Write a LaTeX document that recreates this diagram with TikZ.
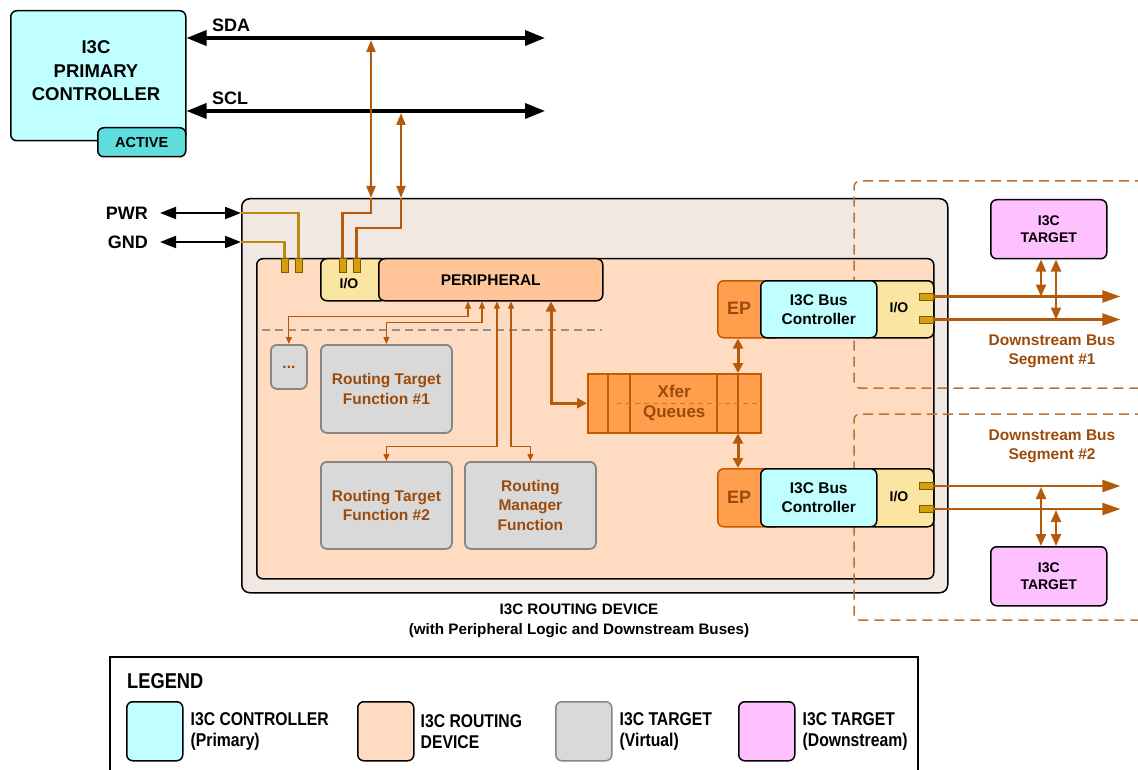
\documentclass[tikz,border=0pt]{standalone}
\usepackage{fontspec}
\setmainfont{Liberation Sans}
\newfontfamily\legendfont[FakeStretch=0.85]{Liberation Sans}
\usetikzlibrary{arrows.meta}

\definecolor{ctrlcyan}{HTML}{C0FFFF}
\definecolor{activeteal}{HTML}{5FDCDC}
\definecolor{devbg}{HTML}{F2E8E2}
\definecolor{peach}{HTML}{FFDCC1}
\definecolor{ioyellow}{HTML}{FAE5A2}
\definecolor{periph}{HTML}{FFC599}
\definecolor{qorange}{HTML}{FF9F4D}
\definecolor{qedge}{HTML}{C25A00}
\definecolor{wire}{HTML}{B55A0A}
\definecolor{brtext}{HTML}{9C4A0A}
\definecolor{vgray}{HTML}{D9D9D9}
\definecolor{vedge}{HTML}{868686}
\definecolor{tpink}{HTML}{FFC0FF}
\definecolor{gold}{HTML}{B88A10}
\definecolor{padfill}{HTML}{D4A010}
\definecolor{padedge}{HTML}{7A5A00}
\definecolor{segline}{HTML}{C0702E}

\begin{document}
\begin{tikzpicture}[x=1pt,y=-1pt,
  font=\bfseries,
  blk/.style={draw=black,line width=1.5pt,rounded corners=6pt,inner sep=0pt,
    align=center,anchor=north west},
  vbox/.style={draw=vedge,fill=vgray,line width=1.8pt,rounded corners=6pt,inner sep=0pt,
    align=center,anchor=north west,text=brtext,font=\bfseries\fontsize{15.5}{19.5}\selectfont},
  lbl/.style={inner sep=0pt,font=\bfseries\fontsize{18}{21}\selectfont},
  midlbl/.style={inner sep=0pt,align=center,font=\bfseries\fontsize{15.5}{19}\selectfont},
  pad/.style={draw=padedge,fill=padfill,line width=0.8pt,inner sep=0pt,
    minimum width=7pt,minimum height=14pt},
  hpad/.style={pad,minimum width=14pt,minimum height=7pt},
  bus/.style={line width=3.5pt,{Triangle[length=20pt,width=15pt]}-{Triangle[length=20pt,width=15pt]}},
  pwrarrow/.style={line width=2pt,{Triangle[length=16pt,width=12pt]}-{Triangle[length=16pt,width=12pt]}},
  ow/.style={wire,line width=2.2pt,{Triangle[length=12pt,width=9pt]}-{Triangle[length=12pt,width=9pt]}},
  owire/.style={wire,line width=2.2pt},
  gwire/.style={gold,line width=2.2pt},
  thinw/.style={wire,line width=1.1pt,{Triangle[length=7pt,width=6pt]}-{Triangle[length=7pt,width=6pt]}},
  thickw/.style={wire,line width=3pt,{Triangle[length=10pt,width=10pt]}-{Triangle[length=10pt,width=10pt]}},
  dsw/.style={wire,line width=2.2pt,-{Triangle[length=18pt,width=12pt]}},
  tgw/.style={wire,line width=2.2pt,{Triangle[length=12pt,width=10pt]}-{Triangle[length=12pt,width=10pt]}},
  seg/.style={segline,line width=1.5pt,dash pattern=on 10pt off 6pt,rounded corners=6pt},
]
\useasboundingbox (0,0) rectangle (1138,770);

% ---------- primary controller and its bus ----------
\node[blk,fill=ctrlcyan,minimum width=175pt,minimum height=130pt] (pc) at (10,10) {};
\node[inner sep=0pt,align=center,font=\bfseries\fontsize{18.5}{23.5}\selectfont] (pctxt) at (96,71) {I3C\\PRIMARY\\CONTROLLER};
\node[blk,fill=activeteal,minimum width=88pt,minimum height=29pt,
  font=\bfseries\fontsize{14.5}{17}\selectfont] (act) at (97,127) {ACTIVE};

\coordinate (sdaEnd) at (545,38);
\coordinate (sclEnd) at (545,111);
\draw[bus] (pc.east |- sdaEnd) -- (sdaEnd);
\draw[bus] (pc.east |- sclEnd) -- (sclEnd);
\node[lbl,anchor=base west] (sda) at (212,32) {SDA};
\node[lbl,anchor=base west] (scl) at (212,105) {SCL};

% ---------- routing device ----------
\node[blk,fill=devbg,minimum width=706pt,minimum height=394pt,rounded corners=8pt] (dev) at (241,198) {};
\node[blk,fill=peach,minimum width=677pt,minimum height=320pt] (rd) at (256,258) {};

% downstream bus segment outlines
\draw[seg] (1145,181) -- (854,181) -- (854,388) -- (1145,388);
\draw[seg] (1145,414) -- (854,414) -- (854,620) -- (1145,620);

% power pins
\node[lbl,anchor=east] (pwr) at (148,213) {PWR};
\node[lbl,anchor=east] (gnd) at (148,242) {GND};
\draw[pwrarrow] ([xshift=12]pwr.east) -- (pwr.east -| dev.west);
\draw[pwrarrow] ([xshift=12]gnd.east) -- (gnd.east -| dev.west);

% I/O and peripheral
\node[blk,fill=ioyellow,minimum width=66pt,minimum height=42pt] (io) at (320,258) {};
\node[inner sep=0pt,font=\bfseries\fontsize{14}{16}\selectfont] (iotxt) at (349,284) {I/O};
\node[blk,fill=periph,minimum width=224pt,minimum height=42pt,
  font=\bfseries\fontsize{15.5}{18}\selectfont] (per) at (378,258) {PERIPHERAL};

\node[pad] (pg1) at (284.5,265) {};
\node[pad] (pg2) at (298.5,265) {};
\node[pad] (pio1) at (342.5,265) {};
\node[pad] (pio2) at (356.5,265) {};

\draw[gwire] (pwr.east -| dev.west) -| (pg2.north);
\draw[gwire] (gnd.east -| dev.west) -| (pg1.north);

% SDA / SCL taps into the I/O block
\draw[ow] ([xshift=130]dev.north west) -- ++(0,-158);
\draw[ow] ([xshift=160]dev.north west) -- ++(0,-85);
\draw[owire] ([xshift=130]dev.north west) -- ++(0,15) -| (pio1.north);
\draw[owire] ([xshift=160]dev.north west) -- ++(0,30) -| (pio2.north);

% split between peripheral and virtual targets
\draw[vedge!90,line width=1.2pt,dash pattern=on 8pt off 5pt] (262,330) -- (602,330);

% virtual targets
\node[vbox,minimum width=36pt,minimum height=44pt] (dots) at (270,344) {...};
\node[vbox,minimum width=131pt,minimum height=88pt] (rt1) at (320,344) {Routing Target\\Function \#1};
\node[vbox,minimum width=131pt,minimum height=87pt] (rt2) at (320,461) {Routing Target\\Function \#2};
\node[vbox,minimum width=131pt,minimum height=87pt] (rm) at (464,461) {Routing\\Manager\\Function};

% transfer queues
\node[draw=qedge,fill=qorange,line width=1.5pt,minimum width=173pt,minimum height=59pt,
  anchor=north west,inner sep=0pt] (xq) at (587,373) {};
\foreach \dx in {21,43,130,151}
  \draw[qedge,line width=1.5pt] ([xshift=\dx]xq.north west) -- ([xshift=\dx]xq.south west);
\draw[qedge!85,line width=0.7pt,dash pattern=on 5pt off 4pt] ([xshift=30]xq.west) -- (xq.east);
\node[midlbl,text=brtext,font=\bfseries\fontsize{17}{20}\selectfont] (xqtxt) at (xq.center) {Xfer\\Queues};

% peripheral connections
\draw[thinw] ([xshift=90]per.south west) -- ++(0,15) -| (dots.north);
\draw[thinw] ([xshift=104]per.south west) -- ++(0,21) -| (rt1.north);
\draw[thinw] ([xshift=119]per.south west) -- ++(0,145) -| (rt2.north);
\draw[thinw] ([xshift=133]per.south west) -- ++(0,145) -| (rm.north);
\draw[thickw] ([xshift=173]per.south west) |- (xq.west);

% downstream controller 1
\node[blk,draw=qedge,fill=qorange,minimum width=64pt,minimum height=57pt] (ep1) at (717,280) {};
\node[blk,fill=ioyellow,minimum width=67pt,minimum height=57pt] (io1) at (866,280) {};
\node[blk,fill=ctrlcyan,minimum width=116pt,minimum height=57pt,
  font=\bfseries\fontsize{15.5}{19}\selectfont] (bc1) at (760,280) {I3C Bus\\Controller};
\node[inner sep=0pt,text=brtext,font=\bfseries\fontsize{18}{20}\selectfont] (ep1txt) at (739,308) {EP};
\node[inner sep=0pt,font=\bfseries\fontsize{14}{16}\selectfont] (io1txt) at (899,308) {I/O};
\node[hpad] (d1a) at (926,296.5) {};
\node[hpad] (d1b) at (926,319.5) {};

% downstream controller 2
\node[blk,draw=qedge,fill=qorange,minimum width=64pt,minimum height=58pt] (ep2) at (717,468) {};
\node[blk,fill=ioyellow,minimum width=67pt,minimum height=58pt] (io2) at (866,468) {};
\node[blk,fill=ctrlcyan,minimum width=116pt,minimum height=58pt,
  font=\bfseries\fontsize{15.5}{19}\selectfont] (bc2) at (760,468) {I3C Bus\\Controller};
\node[inner sep=0pt,text=brtext,font=\bfseries\fontsize{18}{20}\selectfont] (ep2txt) at (739,497) {EP};
\node[inner sep=0pt,font=\bfseries\fontsize{14}{16}\selectfont] (io2txt) at (899,497) {I/O};
\node[hpad] (d2a) at (926,486) {};
\node[hpad] (d2b) at (926,509) {};

% queue to endpoint links
\draw[thickw] ([xshift=21]ep1.south west) -- ([xshift=151]xq.north west);
\draw[thickw] ([xshift=151]xq.south west) -- ([xshift=21]ep2.north west);

% downstream buses
\draw[dsw] (d1a.east) -- ++(187,0);
\draw[dsw] (d1b.east) -- ++(187,0);
\draw[dsw] (d2a.east) -- ++(187,0);
\draw[dsw] (d2b.east) -- ++(187,0);

% downstream targets
\node[blk,fill=tpink,minimum width=116pt,minimum height=59pt,
  font=\bfseries\fontsize{14}{17}\selectfont] (tg1) at (990,199) {I3C\\TARGET};
\node[blk,fill=tpink,minimum width=116pt,minimum height=59pt,
  font=\bfseries\fontsize{14}{17}\selectfont] (tg2) at (990,546) {I3C\\TARGET};
\draw[tgw] ([xshift=51]tg1.south west) -- ++(0,37);
\draw[tgw] ([xshift=66]tg1.south west) -- ++(0,60);
\draw[tgw] ([xshift=51]tg2.north west) -- ++(0,-59);
\draw[tgw] ([xshift=66]tg2.north west) -- ++(0,-36);

\node[midlbl,text=brtext] (seg1) at (1052,351.5) {Downstream Bus\\Segment \#1};
\node[midlbl,text=brtext] (seg2) at (1052,446.5) {Downstream Bus\\Segment \#2};

% caption
\node[inner sep=0pt,align=center,font=\bfseries\fontsize{15.2}{20}\selectfont] (cap) at (579,621)
  {I3C ROUTING DEVICE\\(with Peripheral Logic and Downstream Buses)};

% ---------- legend ----------
\draw[line width=1.5pt] (110,775) -- (110,657) -- (918,657) -- (918,775);
\node[inner sep=0pt,anchor=base west,font=\legendfont\bfseries\fontsize{21.5}{24}\selectfont] (lgd) at (127,688) {LEGEND};
\tikzset{lgtxt/.style={inner sep=0pt,anchor=west,align=left,font=\legendfont\bfseries\fontsize{18.5}{21}\selectfont}}
\node[blk,fill=ctrlcyan,minimum width=56pt,minimum height=59pt] (sw1) at (126,701) {};
\node[lgtxt] (sw1t) at ([xshift=7]sw1.east) {I3C CONTROLLER\\(Primary)};
\node[blk,fill=peach,minimum width=56pt,minimum height=59pt] (sw2) at (357,701) {};
\node[lgtxt] (sw2t) at ([xshift=6]sw2.east) {I3C ROUTING\\DEVICE};
\node[blk,draw=vedge,fill=vgray,minimum width=56pt,minimum height=59pt] (sw3) at (555,701) {};
\node[lgtxt] (sw3t) at ([xshift=7]sw3.east) {I3C TARGET\\(Virtual)};
\node[blk,fill=tpink,minimum width=56pt,minimum height=59pt] (sw4) at (738,701) {};
\node[lgtxt] (sw4t) at ([xshift=7]sw4.east) {I3C TARGET\\(Downstream)};
\end{tikzpicture}
\end{document}
